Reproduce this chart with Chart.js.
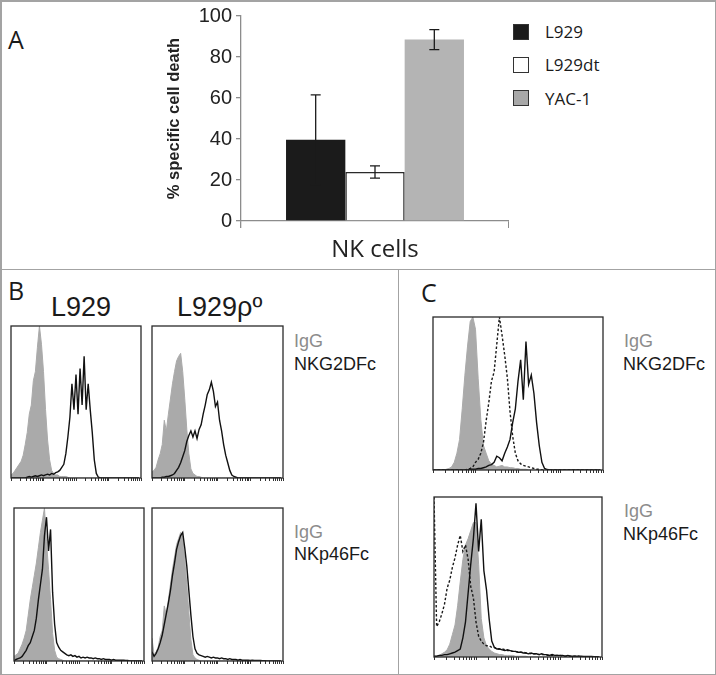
<!doctype html>
<html lang="en">
<head>
  <meta charset="utf-8">
  <title>NK cell killing and NKG2D / NKp46 ligand staining</title>
  <script src="https://cdn.jsdelivr.net/npm/chart.js@4.4.1/dist/chart.umd.min.js"></script>
  <style>
    html, body { margin: 0; padding: 0; background: #fff; }
    #fig { position: relative; width: 716px; height: 675px; overflow: hidden; background: #fff; }
    #fig canvas { position: absolute; }
    .rule { position: absolute; background: #a3a3a3; }
    .txt { position: absolute; line-height: 1; white-space: nowrap; color: #1a1a1a; }
    .cal { font-family: "Open Sans", sans-serif; }
    .ari { font-family: "Liberation Sans", Arial, sans-serif; }
    .igg { color: #8c8c8c; }
    .sw { position: absolute; width: 16px; height: 16px; box-sizing: border-box; border: 1.5px solid #333; }
  </style>
</head>
<body>
<div id="fig">
  <!-- frame and panel dividers -->
  <div class="rule" style="left:0;top:0;width:716px;height:1.5px"></div>
  <div class="rule" style="left:0;top:673.5px;width:716px;height:1.5px"></div>
  <div class="rule" style="left:0;top:0;width:1.5px;height:675px"></div>
  <div class="rule" style="left:714.5px;top:0;width:1.5px;height:675px"></div>
  <div class="rule" style="left:0;top:268.5px;width:716px;height:1.5px"></div>
  <div class="rule" style="left:397.5px;top:269px;width:1.5px;height:406px"></div>

  <!-- panel A -->
  <div class="txt cal" style="left:8px;top:27px;font-size:25px">A</div>
  <canvas id="barA"></canvas>
  <div class="sw" style="left:513px;top:24px;background:#1b1b1b"></div>
  <div class="sw" style="left:513px;top:57px;background:#fff"></div>
  <div class="sw" style="left:513px;top:90px;background:#a8a8a8"></div>
  <div class="txt cal" id="leg0" style="left:545px;top:23px;font-size:17px"></div>
  <div class="txt cal" id="leg1" style="left:545px;top:56px;font-size:17px"></div>
  <div class="txt cal" id="leg2" style="left:545px;top:90px;font-size:17px"></div>

  <!-- panel B -->
  <div class="txt cal" style="left:8px;top:278px;font-size:25px">B</div>
  <div class="txt ari" style="left:51px;top:294px;font-size:27px">L929</div>
  <div class="txt ari" style="left:177px;top:294px;font-size:27px">L929ρº</div>
  <canvas id="bTL"></canvas>
  <canvas id="bTR"></canvas>
  <canvas id="bBL"></canvas>
  <canvas id="bBR"></canvas>
  <div class="txt ari igg" style="left:294px;top:332px;font-size:18px">IgG</div>
  <div class="txt ari" style="left:294px;top:355px;font-size:18px">NKG2DFc</div>
  <div class="txt ari igg" style="left:294px;top:523px;font-size:18px">IgG</div>
  <div class="txt ari" style="left:294px;top:545px;font-size:18px">NKp46Fc</div>

  <!-- panel C -->
  <div class="txt cal" style="left:421px;top:280px;font-size:25px">C</div>
  <canvas id="cT"></canvas>
  <canvas id="cB"></canvas>
  <div class="txt ari igg" style="left:624px;top:332px;font-size:18px">IgG</div>
  <div class="txt ari" style="left:623px;top:355px;font-size:18px">NKG2DFc</div>
  <div class="txt ari igg" style="left:624px;top:502px;font-size:18px">IgG</div>
  <div class="txt ari" style="left:623px;top:525px;font-size:18px">NKp46Fc</div>
</div>

<script>
// ---- panel A: % specific cell death ----
var categories = ["NK cells"];
var targets = ["L929", "L929dt", "YAC-1"];
var deathMean = [39.6, 23.9, 88.5];
var deathErr = [21.9, 3.0, 4.9];
var yTicks = [0, 20, 40, 60, 80, 100];

// ---- panels B and C: histograms, 64 channels over 4 log decades, % of max ----
// B, L929, NKG2DFc
var bTLIgG = [2,3,5,7,9,11,15,22,30,42,48,64,70,86,100,88,
  70,45,25,12,5,3,2,2,1,1,1,1,0.5,0,0,0,
  0,0,0,0,0,0,0,0,0,0,0,0,0,0,0,0,
  0,0,0,0,0,0,0,0,0,0,0,0,0,0,0,0];
var bTLFc = [0,0,0,0,0,0,0,0,0.5,1,0.5,1,1.5,1,1.5,2,
  1.5,2,2.5,2,3,2.5,3.5,4,5,7,9,16,27,40,62,45,
  68,42,72,48,80,45,62,45,30,12,3,0.5,0,0,0,0,
  0,0,0,0,0,0,0,0,0,0,0,0,0,0,0,0];
// B, L929rho0, NKG2DFc
var bTRIgG = [4,5,7,12,16,22,38,31,42,52,62,70,77,80,82,70,
  52,32,16,6,3,2,1,1,0.5,0,0,0,0,0,0,0,
  0,0,0,0,0,0,0,0,0,0,0,0,0,0,0,0,
  0,0,0,0,0,0,0,0,0,0,0,0,0,0,0,0];
var bTRFc = [0,0,0,0,0,0.5,0.5,1,1,1.5,2,3,5,7,10,14,
  18,24,28,31,27,31,26,32,35,42,48,55,58,63,57,47,
  50,38,31,22,15,10,5,2,1,0.5,0,0,0,0,0,0,
  0,0,0,0,0,0,0,0,0,0,0,0,0,0,0,0];
// B, L929, NKp46Fc
var bBLIgG = [3,4,5,8,11,15,20,30,40,48,56,64,74,84,92,100,
  78,60,40,18,7,2.5,1.5,1,0.5,0,0,0,0,0,0,0,
  0,0,0,0,0,0,0,0,0,0,0,0,0,0,0,0,
  0,0,0,0,0,0,0,0,0,0,0,0,0,0,0,0];
var bBLFc = [0,1,1.5,2,3,5,7,10,12,16,20,28,40,50,60,82,
  94,72,86,45,24,12,9,7,6,5,4,3.5,4,3,3.5,2.5,
  3,2,2.5,2,2.5,2,2,1.5,2,1.5,1.5,1,1.5,1,1,1,
  0.5,1,0.5,0.5,0.5,0.5,0.5,0.3,0.3,0,0,0,0,0,0,0];
// B, L929rho0, NKp46Fc
var bBRIgG = [15,4,6,9,16,20,36,30,40,50,60,68,76,80,84,82,
  66,50,32,14,4,2,1,0.5,0,0,0,0,0,0,0,0,
  0,0,0,0,0,0,0,0,0,0,0,0,0,0,0,0,
  0,0,0,0,0,0,0,0,0,0,0,0,0,0,0,0];
var bBRFc = [6,3,5,8,12,17,24,31,38,46,56,64,73,78,82,84,
  74,62,46,30,16,8,5,4,3.5,3,2.5,3,2.5,2,2.5,2,
  2,1.5,2,1.5,1.5,1,1.5,1,1,1,0.5,1,0.5,0.5,0.5,0.5,
  0.3,0.5,0.3,0.3,0.3,0.3,0.2,0.2,0,0,0,0,0,0,0,0];
// C, NKG2DFc
var cTIgG = [0,0,0,0,0,0.5,1,2,5,11,20,40,62,81,97,100,
  92,60,33,16,11,6,4,3,2,2.5,3,2,2,1.5,1.5,1,
  1,0.5,0.5,0.5,0,0,0,0,0,0,0,0,0,0,0,0,
  0,0,0,0,0,0,0,0,0,0,0,0,0,0,0,0];
var cTDashed = [0,0,0,0,0,0,0,0,0,0,0,0,0,0.5,1,2,
  5,7,11,18,32,44,58,64,82,100,88,75,60,38,22,11,
  6,4,3,2.5,2,1.5,1,0.5,0.5,0,0,0,0,0,0,0,
  0,0,0,0,0,0,0,0,0,0,0,0,0,0,0,0];
var cTSolid = [0,0,0,0,0,0,0,0,0,0,0,0,0,0,0.5,0.5,
  0.5,1,1,1.5,2,3,3.5,5,9,8,6,11,15,20,31,40,
  58,72,46,84,56,62,50,31,16,5,1,0.3,0,0,0,0,
  0,0,0,0,0,0,0,0,0,0,0,0,0,0,0,0];
// C, NKp46Fc
var cBIgG = [0.5,0.5,1,2,3,4.5,8,14,20,32,47,61,70,74,79,84,
  84,58,24,12,7,5,3.5,2.5,2,1.5,1.5,1,1,1,1,0.5,
  0.5,0.5,0.5,0.5,0,0,0,0,0,0,0,0,0,0,0,0,
  0,0,0,0,0,0,0,0,0,0,0,0,0,0,0,0];
var cBDashed = [100,19,22,27,33,43,48,56,62,70,76,66,70,61,44,37,
  22,13,10,8,7,7,6,6,5,5,5,4.5,4,4,3.5,3.5,
  3,3,3,2.5,2.5,2,2,2,1.5,1.5,1.5,1,1,1,1,1,
  1,0.5,0.5,0.5,0.5,0.5,0.5,0.5,0,0,0,0,0,0,0,0];
var cBSolid = [0.5,0.5,1,1,1.5,1.5,2,2.5,3,4,5,12,22,40,58,74,
  96,66,86,54,42,24,10,6,5,5,4.5,4,4.5,4,3.5,3.5,
  3,3,2.5,2.5,2,2.5,2,2,1.5,2,1.5,1.5,1,1.5,1,1,
  1,1,0.5,1,0.5,0.5,0.5,0.5,0.5,0.3,0.3,0.3,0.3,0.2,0.2,0];

var channels = bTLIgG.map(function (v, i) { return i; });
var perDecade = 16;
var decadeMarks = [1, 2, 3, 4, 5, 6, 7, 8, 9];

for (var i = 0; i < targets.length; i++) {
  document.getElementById("leg" + i).textContent = targets[i];
}

// error bars on top of the bars
var errorBars = {
  id: "errorBars",
  afterDatasetsDraw: function (chart) {
    var ctx = chart.ctx, y = chart.scales.y;
    ctx.save();
    ctx.strokeStyle = "#1b1b1b";
    ctx.lineWidth = 1.3;
    chart.data.datasets.forEach(function (ds, i) {
      var bar = chart.getDatasetMeta(i).data[0];
      var top = y.getPixelForValue(deathMean[i] + deathErr[i]);
      var bot = y.getPixelForValue(deathMean[i] - deathErr[i]);
      ctx.beginPath();
      ctx.moveTo(bar.x, top); ctx.lineTo(bar.x, bot);
      ctx.moveTo(bar.x - 5, top); ctx.lineTo(bar.x + 5, top);
      ctx.moveTo(bar.x - 5, bot); ctx.lineTo(bar.x + 5, bot);
      ctx.stroke();
    });
    ctx.restore();
  }
};

var fills = ["#1b1b1b", "#ffffff", "#b4b4b4"];
var cvA = document.getElementById("barA");
cvA.width = 359; cvA.height = 265;
cvA.style.left = "150px"; cvA.style.top = "0px";

new Chart(cvA, {
  type: "bar",
  data: {
    labels: categories,
    datasets: targets.map(function (t, i) {
      return {
        label: t,
        data: [deathMean[i]],
        backgroundColor: fills[i],
        borderColor: "#2a2a2a",
        borderWidth: i === 1 ? 1.5 : 0,
        categoryPercentage: 0.664,
        barPercentage: 1
      };
    })
  },
  options: {
    responsive: false,
    animation: false,
    layout: { padding: { top: 15, left: 0, right: 0, bottom: 0 } },
    plugins: { legend: { display: false }, tooltip: { enabled: false } },
    scales: {
      x: {
        grid: { drawOnChartArea: false, tickLength: 7, color: "#8c8c8c", lineWidth: 1.3 },
        border: { color: "#8c8c8c", width: 1.3 },
        ticks: { font: { family: "Open Sans", size: 24 }, color: "#222", padding: 8 },
        afterFit: function (s) { s.height = 44; }
      },
      y: {
        min: 0, max: 100,
        afterBuildTicks: function (s) { s.ticks = yTicks.map(function (v) { return { value: v }; }); },
        ticks: { font: { family: "Liberation Sans", size: 20 }, color: "#222", padding: 4 },
        grid: { drawOnChartArea: false, tickLength: 5, color: "#8c8c8c", lineWidth: 1.3 },
        border: { color: "#8c8c8c", width: 1.3 },
        title: {
          display: true, text: "% specific cell death", color: "#222",
          font: { family: "Liberation Sans", size: 16.5, weight: "bold" },
          padding: { top: 15, bottom: 0 }
        },
        afterFit: function (s) { s.width = 91; }
      }
    }
  },
  plugins: [errorBars]
});

// box around each histogram
var frame = {
  id: "frame",
  afterDatasetsDraw: function (chart) {
    var a = chart.chartArea, ctx = chart.ctx;
    ctx.save();
    ctx.strokeStyle = "#2a2a2a";
    ctx.lineWidth = 1.3;
    ctx.strokeRect(a.left, a.top, a.right - a.left, a.bottom - a.top);
    ctx.restore();
  }
};

function logTicks() {
  var out = [];
  for (var d = 0; d < 4; d++) {
    decadeMarks.forEach(function (k) { out.push({ value: perDecade * (d + Math.log10(k)) }); });
  }
  out.push({ value: perDecade * 4 });
  return out;
}

function points(ys) {
  return ys.map(function (y, i) { return { x: channels[i], y: y }; });
}

function histo(id, box, igg, dashed, solid) {
  var pad = 2;
  var cv = document.getElementById(id);
  cv.width = box.w + pad * 2;
  cv.height = box.h + pad * 2 + 3;
  cv.style.left = (box.x - pad) + "px";
  cv.style.top = (box.y - pad) + "px";
  var sets = [{
    data: points(igg), borderColor: "#aaaaaa", borderWidth: 1,
    backgroundColor: "#aaaaaa", fill: "origin", order: 3
  }];
  if (dashed) {
    sets.push({ data: points(dashed), borderColor: "#1a1a1a", borderWidth: 1.4,
      borderDash: [2.5, 2], fill: false, order: 2 });
  }
  sets.push({ data: points(solid), borderColor: "#111", borderWidth: 1.4, fill: false, order: 1 });
  new Chart(cv, {
    type: "line",
    data: { datasets: sets },
    options: {
      responsive: false,
      animation: false,
      layout: { padding: pad },
      elements: { point: { radius: 0 }, line: { tension: 0 } },
      plugins: { legend: { display: false }, tooltip: { enabled: false } },
      scales: {
        x: {
          type: "linear", min: 0, max: perDecade * 4,
          afterBuildTicks: function (s) { s.ticks = logTicks(); },
          border: { display: false },
          grid: { drawOnChartArea: false, tickLength: 3, tickColor: "#333", tickWidth: 1 },
          ticks: { display: false }
        },
        y: { display: false, min: 0, max: 100 }
      }
    },
    plugins: [frame]
  });
}

histo("bTL", { x: 11, y: 326, w: 130, h: 152 }, bTLIgG, null, bTLFc);
histo("bTR", { x: 152, y: 326, w: 131, h: 152 }, bTRIgG, null, bTRFc);
histo("bBL", { x: 14, y: 508, w: 130, h: 153 }, bBLIgG, null, bBLFc);
histo("bBR", { x: 152, y: 508, w: 131, h: 153 }, bBRIgG, null, bBRFc);
histo("cT", { x: 433, y: 317, w: 170, h: 153 }, cTIgG, cTDashed, cTSolid);
histo("cB", { x: 434, y: 497, w: 168, h: 160 }, cBIgG, cBDashed, cBSolid);
</script>
</body>
</html>
